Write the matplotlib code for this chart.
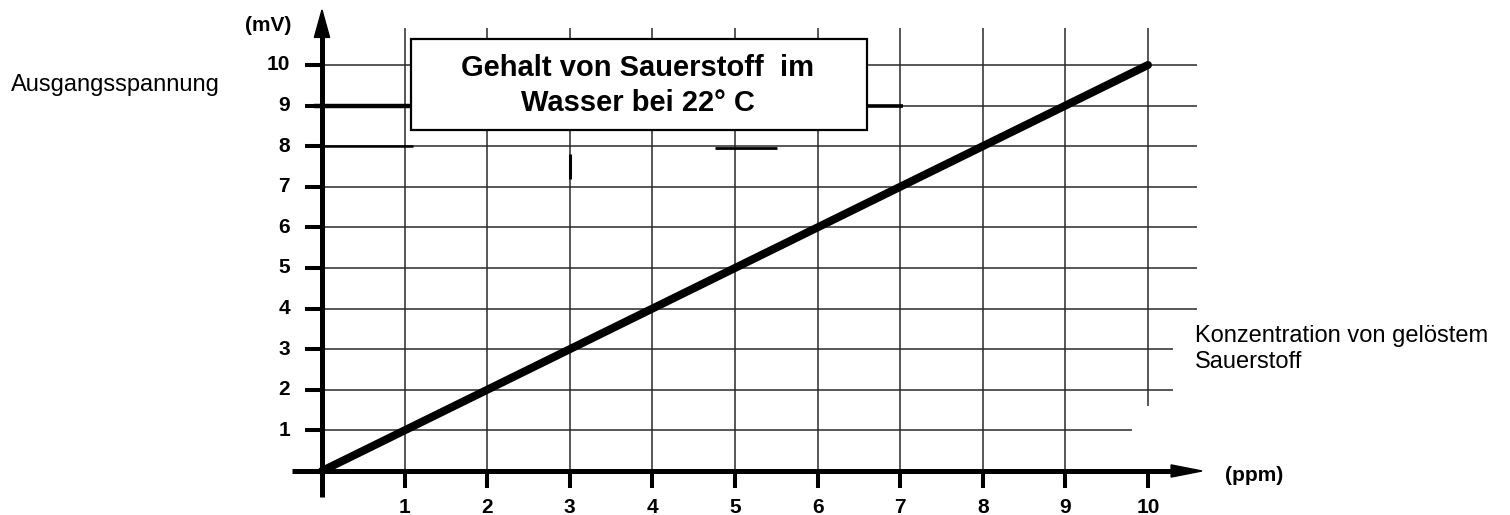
import numpy as np
import matplotlib.pyplot as plt
from matplotlib.patches import Rectangle, Polygon

plt.rcParams['font.family'] = ['Liberation Sans', 'DejaVu Sans']

# ---------------- data ----------------
ppm = [0, 1, 2, 3, 4, 5, 6, 7, 8, 9, 10]
mv = [0, 1, 2, 3, 4, 5, 6, 7, 8, 9, 10]
x_ticks = [1, 2, 3, 4, 5, 6, 7, 8, 9, 10]
y_ticks = [1, 2, 3, 4, 5, 6, 7, 8, 9, 10]
x_labels = ["1", "2", "3", "4", "5", "6", "7", "8", "9", "10"]
y_labels = ["1", "2", "3", "4", "5", "6", "7", "8", "9", "10"]

title = "Gehalt von Sauerstoff  im\nWasser bei 22° C"
y_name = "Ausgangsspannung"
x_name = "Konzentration von gelöstem\nSauerstoff"

# ---------------- figure ----------------
fig = plt.figure(figsize=(15.1, 5.15), dpi=100)
ax = fig.add_axes([0, 0, 1, 1])
ax.set_xlim(-3.898, 14.383)
ax.set_ylim(-1.084, 11.601)
ax.axis('off')

grid_c = '#2a2a2a'

# horizontal grid lines (right ends differ a bit, like the scan)
h_right = {1: 9.81, 2: 10.30, 3: 10.30}
for y in y_ticks:
    ax.hlines(y, 0, h_right.get(y, 10.59), color=grid_c, lw=1.1, zorder=1)

# vertical grid lines
for x in x_ticks:
    bottom = 1.6 if x == 10 else 0
    ax.vlines(x, bottom, 10.91, color=grid_c, lw=1.1, zorder=1)

# darker scan strokes
ax.hlines(9, -0.1, 1.1, color='black', lw=3.2, zorder=2)
ax.hlines(9, 6.6, 7.03, color='black', lw=2.6, zorder=2)
ax.hlines(8, 0, 1.1, color='black', lw=1.8, zorder=2)
ax.hlines(7.95, 4.76, 5.51, color='black', lw=2.0, zorder=2)
ax.vlines(3, 7.2, 7.8, color='black', lw=2.2, zorder=2)

# axes with arrows
ax.plot([-0.363, 10.35], [0, 0], color='black', lw=3.6, solid_capstyle='butt', zorder=4)
ax.add_patch(Polygon([[10.654, 0], [10.28, 0.15], [10.28, -0.15]],
                     closed=True, color='black', zorder=4))
ax.plot([0, 0], [-0.64, 10.75], color='black', lw=3.6, solid_capstyle='butt', zorder=4)
ax.add_patch(Polygon([[0, 11.355], [-0.092, 10.68], [0.092, 10.68]],
                     closed=True, color='black', zorder=4))

# ticks
ax.vlines(x_ticks, -0.43, 0, color='black', lw=2.9, zorder=4)
ax.hlines(y_ticks, -0.21, 0, color='black', lw=2.9, zorder=4)

# tick labels
for x, lab in zip(x_ticks, x_labels):
    ax.text(x, -1.03, lab, ha='center', va='baseline', fontsize=15, fontweight='bold')
for y, lab in zip(y_ticks, y_labels):
    ax.text(-0.387, y, lab, ha='right', va='center', fontsize=15, fontweight='bold')

ax.text(-0.654, 10.985, "(mV)", ha='center', va='center', fontsize=15, fontweight='bold')
ax.text(10.93, -0.1, "(ppm)", ha='left', va='center', fontsize=15, fontweight='bold')

# main line
ax.plot(ppm, mv, color='black', lw=5.8, solid_capstyle='round', zorder=5)

# title box
ax.add_patch(Rectangle((1.077, 8.40), 6.598 - 1.077, 10.64 - 8.40,
                       facecolor='white', edgecolor='black', lw=1.6, zorder=6))
ax.text(3.826, 9.495, title, ha='center', va='center', fontsize=21,
        fontweight='bold', linespacing=1.35, zorder=7)

# axis names
ax.text(-3.765, 9.507, y_name, ha='left', va='center', fontsize=17)
ax.text(10.569, 3.005, x_name, ha='left', va='center', fontsize=17, linespacing=1.2)

fig.savefig('out.png', dpi=100)
